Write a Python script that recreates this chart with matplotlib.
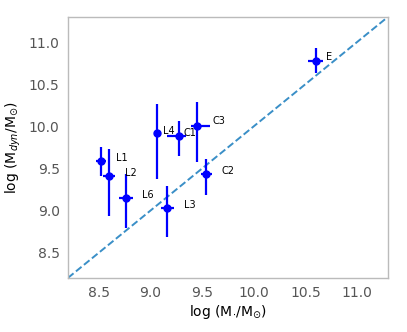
import matplotlib
matplotlib.use("Agg")
import matplotlib.pyplot as plt
import numpy as np

names = ["L1", "L2", "L6", "L4", "L3", "C1", "C3", "C2", "E"]
log_mstar = [8.52, 8.60, 8.76, 9.06, 9.16, 9.28, 9.45, 9.54, 10.60]
log_mdyn = [9.59, 9.41, 9.15, 9.92, 9.03, 9.885, 10.01, 9.43, 10.78]
xerr_lo = [0.05, 0.06, 0.07, 0.02, 0.06, 0.12, 0.06, 0.05, 0.07]
xerr_hi = [0.05, 0.06, 0.07, 0.02, 0.07, 0.06, 0.13, 0.06, 0.07]
yerr_lo = [0.18, 0.48, 0.36, 0.55, 0.34, 0.24, 0.43, 0.24, 0.15]
yerr_hi = [0.16, 0.32, 0.29, 0.35, 0.26, 0.18, 0.28, 0.18, 0.15]
label_x = [8.67, 8.75, 8.92, 9.12, 9.32, 9.32, 9.60, 9.69, 10.70]
label_y = [9.63, 9.45, 9.18, 9.95, 9.06, 9.92, 10.06, 9.47, 10.82]

lims = (8.2, 11.3)

fig = plt.figure(figsize=(4.07, 3.32), dpi=100)
ax = fig.add_axes([0.167, 0.163, 0.786, 0.786])

ax.plot(lims, lims, linestyle="--", color="#3a8fc7", linewidth=1.4, zorder=1)
ax.errorbar(
    log_mstar,
    log_mdyn,
    xerr=[xerr_lo, xerr_hi],
    yerr=[yerr_lo, yerr_hi],
    fmt="o",
    color="blue",
    ecolor="blue",
    elinewidth=1.6,
    markersize=5,
    capsize=0,
    zorder=3,
)
for name, tx, ty in zip(names, label_x, label_y):
    ax.text(tx, ty, name, fontsize=7, va="center", ha="left")

ax.set_xlim(lims)
ax.set_ylim(lims)
ax.set_xticks([8.5, 9.0, 9.5, 10.0, 10.5, 11.0])
ax.set_yticks([8.5, 9.0, 9.5, 10.0, 10.5, 11.0])
ax.tick_params(length=0, labelsize=10, labelcolor="#555555", pad=6)
for spine in ax.spines.values():
    spine.set_color("#bbbbbb")
    spine.set_linewidth(1.0)

ax.set_xlabel(r"log (M$_{\cdot}$/M$_{\odot}$)", fontsize=10, labelpad=2)
ax.set_ylabel(r"log (M$_{dyn}$/M$_{\odot}$)", fontsize=10, labelpad=4)

fig.savefig("out.png", dpi=100)
